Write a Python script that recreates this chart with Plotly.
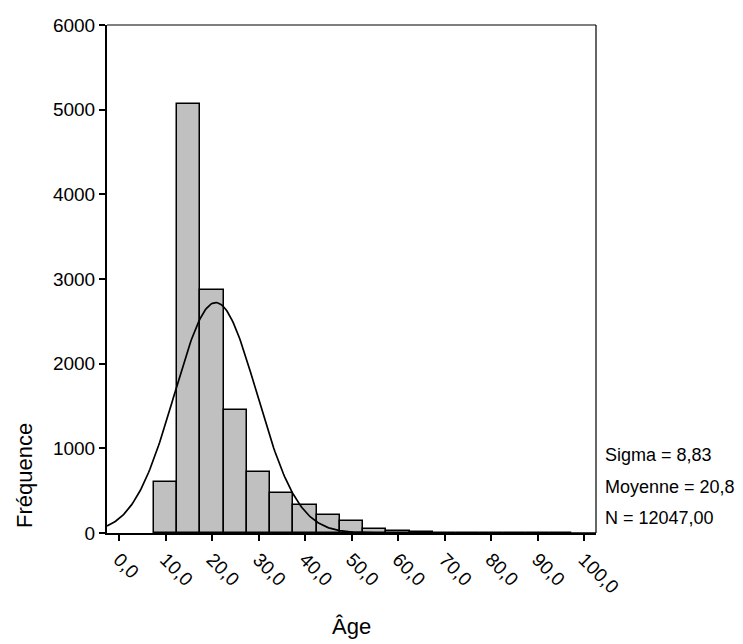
import numpy as np
import plotly.graph_objects as go

# Histogram bins (centers, width 5) and frequencies
bin_centers = [10, 15, 20, 25, 30, 35, 40, 45, 50, 55, 60, 65, 70, 75, 80, 85, 90, 95]
frequencies = [608, 5067, 2865, 1448, 720, 472, 328, 218, 142, 42, 22, 9, 5, 3, 2, 4, 1, 1]
bin_width = 5

# Summary statistics shown in the chart
sigma = 8.83
mean = 20.8
n_total = 12047

tick_vals = [0, 10, 20, 30, 40, 50, 60, 70, 80, 90, 100]
tick_text = ["0,0", "10,0", "20,0", "30,0", "40,0", "50,0", "60,0", "70,0", "80,0", "90,0", "100,0"]
y_ticks = [0, 1000, 2000, 3000, 4000, 5000, 6000]

x_range = [-2.58, 102.58]

FONT = "Liberation Sans, Arial, sans-serif"

# fitted normal curve from the stated statistics
xc = np.linspace(x_range[0], x_range[1], 400)
yc = n_total * bin_width / (sigma * np.sqrt(2 * np.pi)) * np.exp(-0.5 * ((xc - mean) / sigma) ** 2)

fig = go.Figure()
fig.add_trace(go.Bar(
    x=bin_centers, y=frequencies, width=bin_width,
    marker=dict(color="#c0c0c0", line=dict(color="black", width=1.5)),
    showlegend=False, hoverinfo="x+y",
))
fig.add_trace(go.Scatter(
    x=xc, y=yc, mode="lines", line=dict(color="black", width=1.7),
    showlegend=False, hoverinfo="skip",
))

fig.update_layout(
    width=743, height=644,
    margin=dict(l=107, r=147, t=25, b=111),
    paper_bgcolor="white", plot_bgcolor="white",
    font=dict(family=FONT, size=19, color="black"),
    bargap=0,
    xaxis=dict(
        range=x_range, tickvals=tick_vals, ticktext=tick_text, tickangle=45,
        showgrid=False, zeroline=False,
        showline=True, linecolor="black", linewidth=2,
        ticks="outside", ticklen=6, tickwidth=1.5, tickcolor="black",
        tickfont=dict(family=FONT, size=19),
    ),
    yaxis=dict(
        range=[0, 6000], tickvals=y_ticks,
        showgrid=False, zeroline=False,
        showline=True, linecolor="black", linewidth=2,
        ticks="outside", ticklen=6, tickwidth=1.5, tickcolor="black",
        tickfont=dict(family=FONT, size=19),
    ),
    shapes=[
        dict(type="line", xref="paper", yref="paper", x0=0, x1=1, y0=1, y1=1,
             line=dict(color="black", width=1.2)),
        dict(type="line", xref="paper", yref="paper", x0=1, x1=1, y0=0, y1=1,
             line=dict(color="black", width=1.2)),
    ],
    annotations=[
        dict(text="Fréquence", xref="paper", yref="paper", x=-0.17, y=0.114,
             textangle=-90, showarrow=False, xanchor="center", yanchor="middle",
             font=dict(family=FONT, size=22)),
        dict(text="Âge", xref="paper", yref="paper", x=0.5, y=-0.185,
             showarrow=False, xanchor="center", yanchor="middle",
             font=dict(family=FONT, size=22)),
        dict(text="Sigma = 8,83", xref="paper", yref="paper", x=1.0143, y=0.1535,
             showarrow=False, xanchor="left", yanchor="middle",
             font=dict(family=FONT, size=18)),
        dict(text="Moyenne = 20,8", xref="paper", yref="paper", x=1.0143, y=0.0906,
             showarrow=False, xanchor="left", yanchor="middle",
             font=dict(family=FONT, size=18)),
        dict(text="N = 12047,00", xref="paper", yref="paper", x=1.0143, y=0.0295,
             showarrow=False, xanchor="left", yanchor="middle",
             font=dict(family=FONT, size=18)),
    ],
)

fig.write_html("out.html")
